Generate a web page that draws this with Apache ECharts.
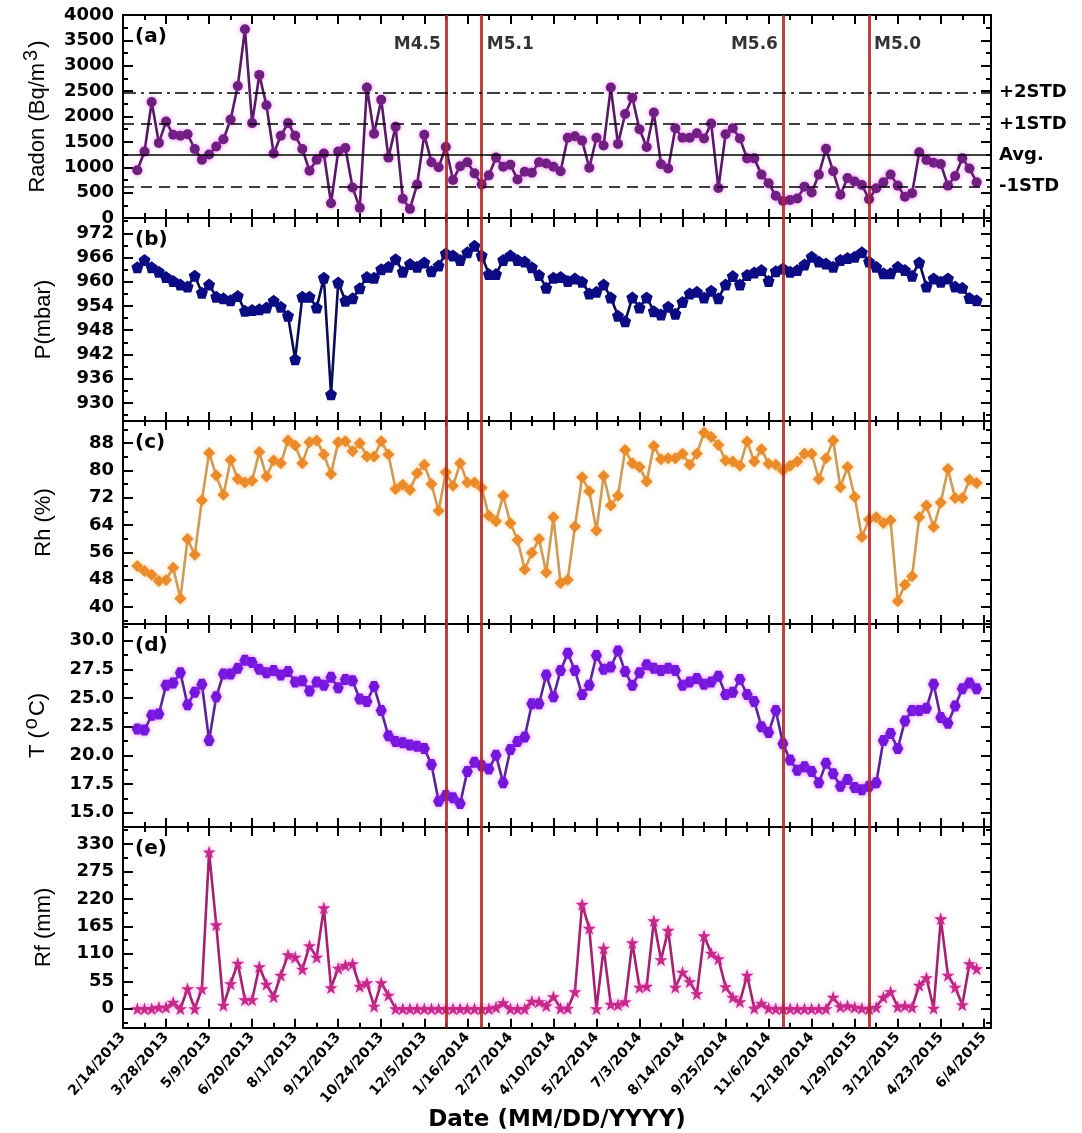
<!DOCTYPE html>
<html><head><meta charset="utf-8">
<script src="https://cdn.jsdelivr.net/npm/echarts@6/dist/echarts.min.js"></script>
<style>html,body{margin:0;padding:0;background:#fff}#c{width:1082px;height:1133px}</style>
</head><body><div id="c"></div>
<script>
// ---------------- data ----------------
const axisStartDate = '2013-02-14';
const axisEndDate = '2015-06-11';
const tickDates = ['2013-02-14','2013-03-28','2013-05-09','2013-06-20','2013-08-01','2013-09-12','2013-10-24',
  '2013-12-05','2014-01-16','2014-02-27','2014-04-10','2014-05-22','2014-07-03','2014-08-14','2014-09-25',
  '2014-11-06','2014-12-18','2015-01-29','2015-03-12','2015-04-23','2015-06-04'];
const firstSampleDate = '2013-02-28';
const sampleStepDays = 7;

const radon = [940,1310,2285,1480,1900,1640,1620,1650,1360,1150,1250,1410,1550,1940,2600,3720,1870,2820,2220,1270,
  1620,1870,1620,1360,930,1150,1270,290,1310,1380,600,200,2570,1660,2330,1190,1800,380,180,660,
  1640,1100,1000,1400,750,1020,1100,880,660,840,1190,1010,1050,760,910,890,
  1100,1075,1010,920,1580,1610,1525,990,1580,1430,2570,1460,2050,2370,1750,1400,2080,1060,975,1770,
  1580,1580,1670,1565,1860,590,1650,1770,1565,1175,1175,855,685,437,336,356,383,618,504,855,
  1364,920,457,786,720,652,370,585,705,855,638,417,490,1297,1142,1089,1062,638,826,1176,974,705];
const pressure = [963.6,965.4,963.6,962.5,961.2,960.2,959.3,958.8,961.5,957.3,959.3,956.3,955.9,955.4,956.5,952.8,953,953.2,953.6,955.3,
  953.8,951.6,940.8,956.3,956.3,953.6,961,932.1,959.8,955.3,955.9,958.4,961.2,961,963.1,963.7,965.6,962.5,964.4,963.7,
  964.8,962.6,964,967,966.5,965.4,967.3,968.9,966.5,961.9,961.9,965.4,966.5,965.4,965,963.6,
  961.7,958.5,961,961.2,960.2,960.8,960,957.1,957.5,959.3,956.1,951.6,950.2,956.1,953.6,956.1,952.7,951.9,953.8,952.1,
  955,957.1,957.5,956.1,957.8,955.9,959.3,961.4,959.3,961.7,962.3,962.9,960.2,962.6,963.3,962.5,962.9,964.3,966.2,965,
  964.5,963.7,965.4,965.9,966.2,967.3,965,963.7,962.1,962.1,963.7,962.9,961.5,964.8,958.8,960.8,960,960.8,958.8,958.5,956,955.4];
const humidity = [52,50.5,49.4,47.6,47.9,51.5,42.5,59.9,55.3,71.3,85.1,78.5,72.9,83.1,77.5,76.5,77,85.4,78.2,82.9,
  82.1,88.8,87.3,82.1,88.3,88.8,84.7,79,88.3,88.6,85.6,88,84.1,84.1,88.6,84.7,74.6,75.8,74.3,79.2,
  81.7,76,68.2,79.5,75.5,82.1,76.5,76.5,74.9,66.7,65.1,72.6,64.5,59.6,51,55.9,
  59.9,50.1,66.3,47,48,63.6,78,73.9,62.4,78.4,69.7,72.6,86,82.1,81,76.8,87.2,83.3,83.6,83.6,
  84.9,81.7,84.9,91.1,89.8,87.5,82.9,82.6,81.4,88.5,82.6,86.2,82,81.7,80,81.4,82.6,84.9,84.9,77.5,
  83.6,88.8,75.1,81,72.2,60.5,65.6,66.3,64.6,65.4,41.7,46.5,49,66.3,69.7,63.4,70.6,80.4,71.9,71.9,77.3,76.3];
const temperature = [22.3,22.2,23.5,23.6,26.1,26.3,27.2,24.4,25.5,26.2,21.3,25.1,27.1,27.1,27.6,28.3,28.1,27.5,27.2,27.4,
  27.0,27.3,26.4,26.5,25.6,26.4,26.1,26.8,25.9,26.6,26.5,24.9,24.7,26.0,23.9,21.7,21.2,21.1,20.9,20.8,
  20.6,19.2,16.0,16.5,16.3,15.8,18.6,19.4,19.1,18.8,20.0,17.6,20.5,21.2,21.6,24.5,
  24.5,27.0,25.1,27.4,28.9,27.4,25.3,26.1,28.7,27.5,27.7,29.1,27.3,26.1,27.2,27.9,27.6,27.4,27.6,27.4,
  26.1,26.4,26.7,26.2,26.4,26.9,25.3,25.5,26.6,25.3,24.7,22.5,22.0,23.9,21.0,19.6,18.7,19.0,18.6,17.6,
  19.3,18.4,17.3,17.9,17.2,17.0,17.3,17.6,21.3,21.9,20.6,23.0,23.9,23.9,24.1,26.2,23.3,22.8,24.3,25.8,26.3,25.8];
const rainfall = [0,0,0,3,3,13,0,40,0,40,314,168,7,50,91,18,18,84,49,24,
  67,108,103,79,126,103,202,42,81,87,90,45,52,5,52,27,0,0,0,0,
  0,0,0,0,0,0,0,0,0,0,3,12,0,0,0,15,
  14,6,24,1,1,34,209,161,0,121,9,8,14,132,43,45,176,98,157,43,
  73,54,30,146,111,100,44,23,14,67,1,11,1,0,0,0,0,0,0,0,
  0,23,4,6,3,1,0,3,23,34,4,6,3,47,62,1,180,67,43,8,90,80];

const quakeDates = ['2013-12-26','2014-01-30','2014-11-20','2015-02-12'];
const quakeLabels = ['M4.5','M5.1','M5.6','M5.0'];
const radonStats = {avg:1240, p1:1855, p2:2470, m1:625};

const radonTicks = [0,500,1000,1500,2000,2500,3000,3500,4000];
const pressureTicks = [930,936,942,948,954,960,966,972];
const humidityTicks = [40,48,56,64,72,80,88];
const temperatureTicks = [15,17.5,20,22.5,25,27.5,30];
const rainfallTicks = [0,55,110,165,220,275,330];

// ---------------- helpers ----------------
const DAY = 86400000;
function utc(s){const p=s.split('-').map(Number);return Date.UTC(p[0],p[1]-1,p[2]);}
const t0 = utc(axisStartDate);
function dayOf(s){return Math.round((utc(s)-t0)/DAY);}
function fmtDay(d){const t=new Date(t0+d*DAY);return (t.getUTCMonth()+1)+'/'+t.getUTCDate()+'/'+t.getUTCFullYear();}
const xMax = dayOf(axisEndDate);
const firstDay = dayOf(firstSampleDate);
const xs = radon.map((_,i)=>firstDay+i*sampleStepDays);
const majorX = tickDates.map(dayOf);
const minorX = majorX.slice(0,-1).map((d,i)=>(d+majorX[i+1])/2);
const quakeDays = quakeDates.map(dayOf);
function minorsOf(t,min,max){const h=(t[1]-t[0])/2;const out=[];
  for(let v=t[0]-h;v<=max+1e-9;v+=2*h){if(v>=min-1e-9)out.push(+v.toFixed(4));}return out;}

const FONT='DejaVu Sans';
const panels = [
  {key:'(a)', data:radon, min:0, max:4000, ticks:radonTicks, fmt:v=>String(v),
   name:'{n|Radon (Bq/m}{s|3}{n|)}', color:'#6e1f80', line:'#5a1869', symbol:'circle', size:10, glow:'rgba(220,40,230,0.55)'},
  {key:'(b)', data:pressure, min:925.5, max:975.8, ticks:pressureTicks, fmt:v=>String(v),
   name:'{n|P(mbar)}', color:'#0b0b84', line:'#0b0b5a', symbol:'path://M10,0 L19.51,6.91 L15.88,18.09 L4.12,18.09 L0.49,6.91 Z', size:12, glow:null},
  {key:'(c)', data:humidity, min:35, max:94.5, ticks:humidityTicks, fmt:v=>String(v),
   name:'{n|Rh (%)}', color:'#ea8a2a', line:'#d29a52', symbol:'diamond', size:12, glow:'rgba(255,170,60,0.6)'},
  {key:'(d)', data:temperature, min:13.75, max:31.45, ticks:temperatureTicks, fmt:v=>v.toFixed(1),
   name:'{n|T (}{s|o}{n|C)}', color:'#7417dc', line:'#5a239e', symbol:'path://M5,0 L15,0 L20,8.66 L15,17.32 L5,17.32 L0,8.66 Z', size:11, glow:'rgba(200,60,255,0.6)'},
  {key:'(e)', data:rainfall, min:-38, max:364, ticks:rainfallTicks, fmt:v=>String(v),
   name:'{n|Rf (mm)}', color:'#c52a88', line:'#a8206f', symbol:'path://M10,0 L12.25,6.91 L19.51,6.91 L13.63,11.18 L15.88,18.09 L10,13.82 L4.12,18.09 L6.37,11.18 L0.49,6.91 L7.75,6.91 Z', size:13, glow:'rgba(255,60,200,0.55)'}
];

const GL=123, GR=91, GTOP=15, GH=203;
const grid=[], xAxis=[], yAxis=[], series=[], graphic=[];
const blk={color:'#000',width:2};
panels.forEach((p,k)=>{
  grid.push({left:GL, right:GR, top:GTOP+GH*k, height:GH});
  const xb={gridIndex:k,type:'value',min:0,max:xMax,splitLine:{show:false},axisLabel:{show:false},
    axisLine:{show:false,onZero:false},axisTick:{show:false}};
  const isLast = k===panels.length-1;
  xAxis.push(Object.assign({},xb,{position:'bottom',axisLine:{show:true,onZero:false,lineStyle:blk},
    axisTick:{show:true,inside:true,length:9,customValues:majorX,lineStyle:blk},
    axisLabel: isLast ? {show:true,customValues:majorX,rotate:49,margin:7,formatter:v=>fmtDay(v),
      fontFamily:FONT,fontWeight:'bold',fontSize:14,color:'#000'} : {show:false},
    name: isLast ? 'Date (MM/DD/YYYY)' : '', nameLocation:'middle', nameGap:80,
    nameTextStyle:{fontFamily:FONT,fontWeight:'bold',fontSize:23,color:'#000'}}));
  xAxis.push(Object.assign({},xb,{position:'bottom',axisTick:{show:true,inside:true,length:5,customValues:minorX,lineStyle:blk}}));
  xAxis.push(Object.assign({},xb,{position:'top',axisLine:{show:true,onZero:false,lineStyle:blk},
    axisTick:{show:true,inside:true,length:9,customValues:majorX,lineStyle:blk}}));
  xAxis.push(Object.assign({},xb,{position:'top',axisTick:{show:true,inside:true,length:5,customValues:minorX,lineStyle:blk}}));

  const minorY = minorsOf(p.ticks,p.min,p.max);
  const yb={gridIndex:k,type:'value',min:p.min,max:p.max,splitLine:{show:false},axisLabel:{show:false},
    axisLine:{show:false,onZero:false},axisTick:{show:false}};
  yAxis.push(Object.assign({},yb,{position:'left',axisLine:{show:true,onZero:false,lineStyle:blk},
    axisTick:{show:true,inside:true,length:10,customValues:p.ticks,lineStyle:blk},
    axisLabel:{show:true,customValues:p.ticks,formatter:p.fmt,margin:9,fontFamily:FONT,fontWeight:'bold',fontSize:18,color:'#000'},
    name:p.name,nameLocation:'middle',nameRotate:90,nameGap:68,
    nameTextStyle:{rich:{n:{fontFamily:'Liberation Sans',fontSize:22,color:'#000'},
      s:{fontFamily:'Liberation Sans',fontSize:20,color:'#000',verticalAlign:'top',padding:[0,2,14,2]}}}}));
  yAxis.push(Object.assign({},yb,{position:'left',axisTick:{show:true,inside:true,length:5,customValues:minorY,lineStyle:blk}}));
  yAxis.push(Object.assign({},yb,{position:'right',axisLine:{show:true,onZero:false,lineStyle:blk},
    axisTick:{show:true,inside:true,length:10,customValues:p.ticks,lineStyle:blk}}));
  yAxis.push(Object.assign({},yb,{position:'right',axisTick:{show:true,inside:true,length:5,customValues:minorY,lineStyle:blk}}));

  const mlData = quakeDays.map(d=>({xAxis:d}));
  if(k===0){
    const h = (v,name,type)=>({yAxis:v,lineStyle:{color:'#000',width:1.5,type:type},
      label:{show:true,position:'end',distance:8,formatter:name,fontFamily:FONT,fontWeight:'bold',fontSize:18,color:'#000'}});
    mlData.push(h(radonStats.p2,'+2STD',[13,5,3,5]));
    mlData.push(h(radonStats.p1,'+1STD',[11,7]));
    mlData.push(h(radonStats.avg,'Avg.','solid'));
    mlData.push(h(radonStats.m1,'-1STD',[11,7]));
  }
  series.push({type:'line',xAxisIndex:4*k,yAxisIndex:4*k,data:xs.map((x,i)=>[x,p.data[i]]),
    symbol:p.symbol,symbolSize:p.size,showAllSymbol:true,animation:false,
    lineStyle:{color:p.line,width:2.6},
    itemStyle:Object.assign({color:p.color,borderWidth:0},p.glow?{shadowBlur:5,shadowColor:p.glow}:{}),
    markLine:{silent:true,symbol:'none',animation:false,label:{show:false},
      lineStyle:{color:'rgba(178,40,34,0.88)',width:3,type:'solid'},data:mlData}});

  graphic.push({type:'text',left:GL+12,top:GTOP+GH*k+12,
    style:{text:p.key,font:'bold 20px "DejaVu Sans"',fill:'#000'}});
});

// earthquake magnitude labels beside the red lines (panel a)
const quakeSide = ['left','right','left','right'];
series.push({type:'scatter',xAxisIndex:0,yAxisIndex:0,symbolSize:0.1,animation:false,silent:true,
  itemStyle:{color:'rgba(0,0,0,0)'},
  data:quakeDays.map((d,i)=>({value:[d,3420],label:{show:true,position:quakeSide[i],distance:5,formatter:quakeLabels[i],
    fontFamily:FONT,fontWeight:'bold',fontSize:17,color:'#000'}}))});

const chart = echarts.init(document.getElementById('c'),null,{renderer:'canvas'});
chart.setOption({animation:false,backgroundColor:'#fff',grid,xAxis,yAxis,series,graphic});
</script></body></html>
